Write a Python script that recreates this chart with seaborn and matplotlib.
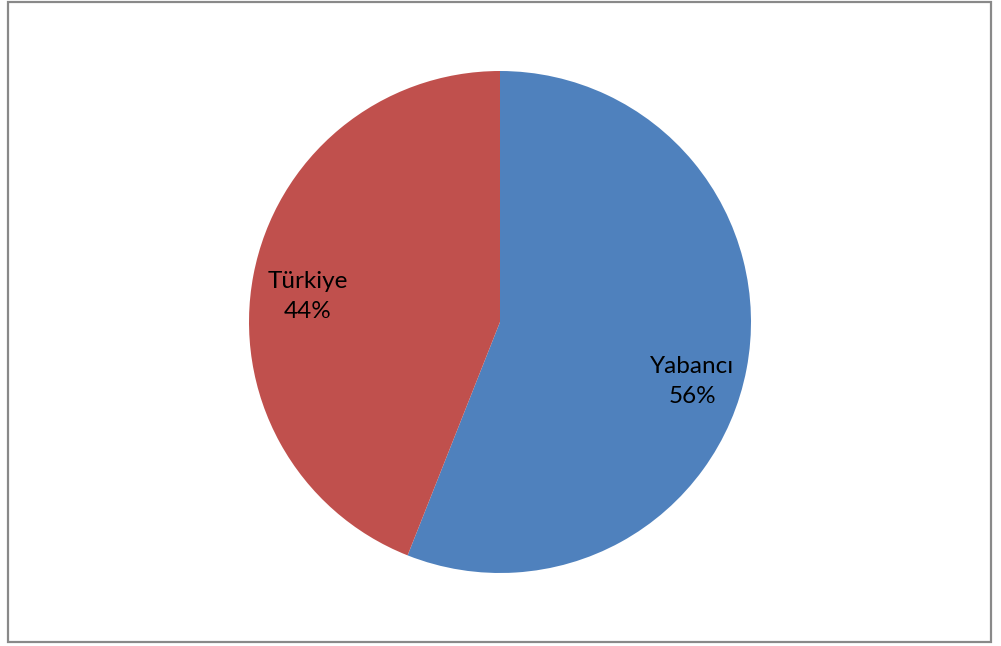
import matplotlib
matplotlib.use("Agg")
import matplotlib.pyplot as plt
import matplotlib.patches as patches
import seaborn as sns

# Veri / data
categories = ["Yabancı", "Türkiye"]
shares = [56, 44]
colors = ["#4F81BD", "#C0504D"]

sns.set_theme(style="white")
plt.rcParams['font.family'] = ['Lato', 'DejaVu Sans']

W, H = 1001, 646
fig = plt.figure(figsize=(W / 100, H / 100), dpi=100)
fig.patch.set_facecolor("white")

# outer chart border
fig.patches.append(patches.Rectangle((8 / W, 4 / H), 983 / W, 640 / H,
                                     transform=fig.transFigure, fill=False,
                                     edgecolor="#898989", linewidth=1.6))

# pie axes (center ~ (500, 322), radius ~ 251 px)
ax = fig.add_axes([249 / W, (H - 573) / H, 502 / W, 502 / H])


def fmt(pct):
    idx = 0 if abs(pct - shares[0]) < abs(pct - shares[1]) else 1
    return f"{categories[idx]}\n{pct:.0f}%"


wedges, texts, autotexts = ax.pie(shares, colors=colors, startangle=90,
                                  counterclock=False, autopct=fmt,
                                  pctdistance=0.78, radius=1,
                                  wedgeprops=dict(linewidth=0))
# Excel-style label nudges (downwards)
nudge = [-0.09, -0.045]
for t, dy in zip(autotexts, nudge):
    x, y = t.get_position()
    t.set_position((x, y + dy))
    t.set_fontsize(17.5)
    t.set_color("black")
    t.set_linespacing(1.55)

ax.set_xlim(-1, 1)
ax.set_ylim(-1, 1)
ax.set_aspect("equal")
ax.axis("off")

fig.savefig("out.png", dpi=100, facecolor="white")
